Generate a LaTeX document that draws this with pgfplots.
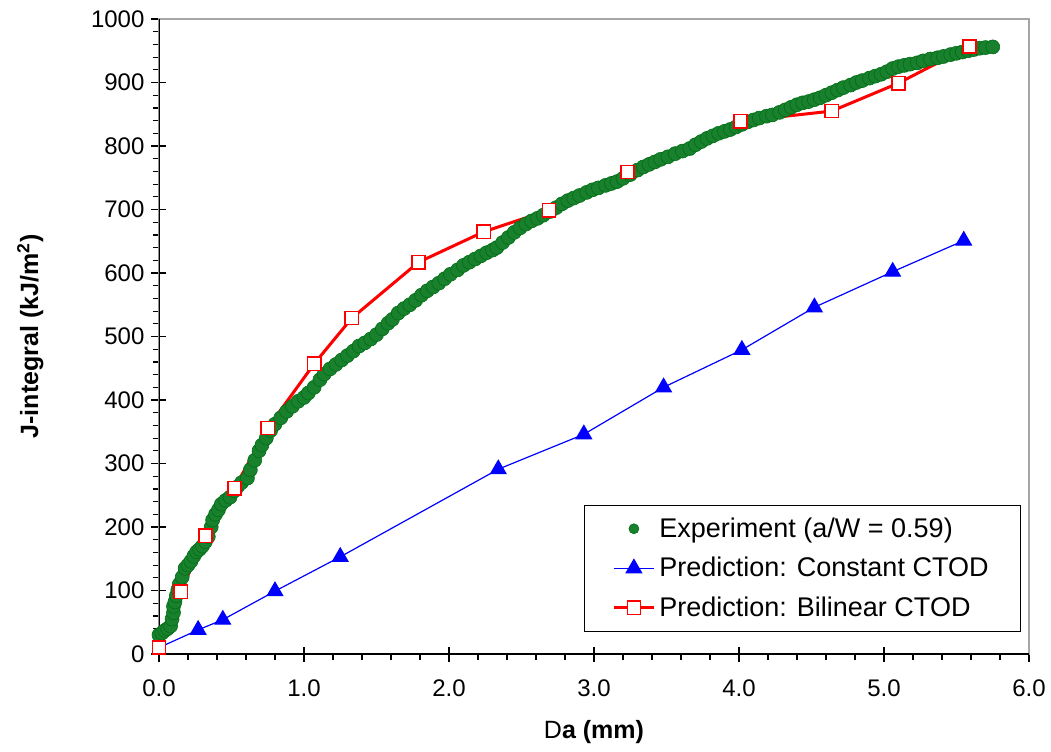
\documentclass[border=0pt]{standalone}
\usepackage{fontspec}
\setmainfont{Liberation Sans}
\usepackage{pgfplots}
\pgfplotsset{compat=1.18}
\definecolor{expgreen}{RGB}{25,128,45}
\definecolor{expedge}{RGB}{0,110,20}
\begin{document}
\begin{tikzpicture}
\useasboundingbox (-79.5pt,-48.5pt) rectangle (446pt,327pt);
\begin{axis}[
 at={(0,0)}, anchor=south west,
 scale only axis, width=435pt, height=317.5pt,
 xmin=0, xmax=6, ymin=0, ymax=1000,
 axis line style={draw=gray!70, line width=0.6pt},
 xtick={0,1,2,3,4,5,6}, ytick={0,100,...,1000},
 xtick pos=left, ytick pos=left,
 minor x tick num=4, minor y tick num=4,
 tick align=center,
 major tick length=7.5pt, minor tick length=3pt,
 tick style={black, line width=0.6pt},
 minor x tick style={yshift=-1.5pt}, minor y tick style={xshift=-1.5pt},
 /pgf/number format/assume math mode=true,
 ticklabel style={font=\fontsize{12}{14}\selectfont},
 xticklabel style={yshift=-5.5pt, /pgf/number format/.cd, fixed, fixed zerofill, precision=1},
 yticklabel style={/pgf/number format/.cd, 1000 sep={}},
 xlabel={{\mdseries D}\textbf{a (mm)}},
 ylabel={\bfseries J-integral (kJ/m\textsuperscript{2})},
 label style={font=\fontsize{12.5}{15}\selectfont},
 xlabel style={at={(axis description cs:0.5,-0.123)}, anchor=center},
 ylabel style={at={(axis description cs:-0.148,0.5)}, anchor=center, rotate=0},
 legend cell align=left,
 legend style={at={(rel axis cs:0.991,0.035)}, anchor=south east, draw=black, line width=0.6pt,
   font=\fontsize{13.5}{16}\selectfont, row sep=4.5pt, inner xsep=14pt, inner ysep=4pt},
 legend image code/.code={\draw[mark repeat=2,mark phase=2,#1] plot coordinates {(0pt,0pt) (10pt,0pt) (20pt,0pt)};},
]
\draw[black, line width=0.6pt] (rel axis cs:0,1) -- (rel axis cs:0,0) -- (rel axis cs:1,0);
\addplot[only marks, mark=*, mark size=3.5pt, mark options={fill=expgreen, draw=expedge, line width=0.3pt},
  legend image post style={mark size=2.5pt}] coordinates {
(0.00,30) (0.02,33) (0.04,37) (0.06,40) (0.08,44) (0.09,55) (0.10,65) (0.10,75) (0.11,82) (0.12,92)
(0.13,101) (0.14,110) (0.16,121) (0.18,135) (0.20,140) (0.22,146) (0.24,154) (0.26,161) (0.28,165) (0.30,170)
(0.32,177) (0.34,185) (0.36,200) (0.37,211) (0.39,220) (0.41,227) (0.43,236) (0.46,242) (0.49,247) (0.52,257)
(0.54,263) (0.57,270) (0.61,277) (0.63,290) (0.66,305) (0.69,320) (0.71,329) (0.74,340) (0.77,352) (0.80,362)
(0.84,372) (0.88,382) (0.92,390) (0.96,398) (1.00,404) (1.03,411) (1.07,420) (1.11,432) (1.14,441) (1.18,449)
(1.22,456) (1.26,463) (1.30,470) (1.34,477) (1.38,485) (1.42,490) (1.46,496) (1.50,503) (1.54,512) (1.58,521)
(1.61,527) (1.65,537) (1.69,544) (1.73,550) (1.77,557) (1.81,565) (1.85,572) (1.89,578) (1.93,584) (1.97,591)
(2.01,598) (2.06,605) (2.10,612) (2.14,617) (2.18,622) (2.22,627) (2.26,632) (2.30,636) (2.33,640) (2.37,648)
(2.41,656) (2.45,664) (2.49,671) (2.53,677) (2.57,682) (2.61,686) (2.65,691) (2.70,697) (2.74,703) (2.78,709)
(2.82,714) (2.86,718) (2.90,722) (2.95,727) (2.99,731) (3.03,734) (3.08,738) (3.12,741) (3.16,744) (3.20,749)
(3.25,755) (3.30,762) (3.34,767) (3.38,771) (3.42,775) (3.46,779) (3.51,783) (3.56,788) (3.61,792) (3.66,796)
(3.70,802) (3.74,807) (3.78,812) (3.82,816) (3.86,820) (3.90,823) (3.94,826) (3.98,830) (4.02,834) (4.06,838)
(4.10,841) (4.14,844) (4.19,847) (4.23,849) (4.28,853) (4.32,857) (4.36,861) (4.40,865) (4.44,868) (4.48,870)
(4.52,873) (4.56,876) (4.60,880) (4.64,884) (4.68,888) (4.72,892) (4.77,896) (4.81,900) (4.85,903) (4.90,907)
(4.94,910) (4.98,913) (5.02,917) (5.06,922) (5.10,925) (5.14,927) (5.18,929) (5.23,931) (5.27,934) (5.32,937)
(5.37,939) (5.41,941) (5.46,944) (5.50,946) (5.54,948) (5.58,950) (5.62,952) (5.66,954) (5.70,955) (5.75,956)
};
\addlegendentry{Experiment (a/W = 0.59)}
\addplot[blue, line width=0.6pt, mark=triangle*, mark size=4.4pt, mark options={fill=blue, draw=blue},
  mark indices={2,3,4,5,6,7,8,9,10,11,12,13},
  legend image post style={mark indices={2}}] coordinates {
(0.00,10) (0.27,38) (0.44,54) (0.80,99) (1.25,153) (2.34,291) (2.93,346) (3.48,420) (4.02,479) (4.52,546) (5.06,602) (5.55,651)
};
\addlegendentry{Prediction: Constant CTOD}
\addplot[red, line width=1.5pt, mark=square*, mark size=3.3pt, mark options={fill=white, draw=red, line width=0.8pt}] coordinates {
(0.00,10) (0.15,98) (0.32,186) (0.52,261) (0.75,356) (1.07,457) (1.33,529) (1.79,617) (2.24,665) (2.69,699) (3.23,759) (4.01,839) (4.64,855) (5.10,899) (5.59,957)
};
\addlegendentry{Prediction: Bilinear CTOD}
\end{axis}
\end{tikzpicture}
\end{document}
